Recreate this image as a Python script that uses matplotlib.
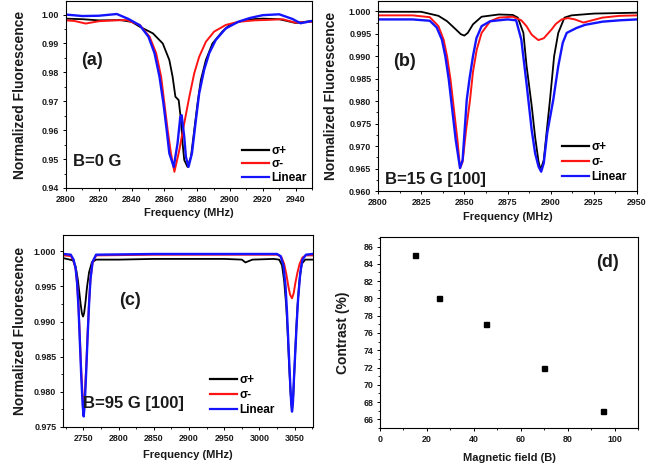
import matplotlib
matplotlib.use("Agg")
import matplotlib.pyplot as plt
from matplotlib.lines import Line2D
from matplotlib.ticker import MultipleLocator, FormatStrFormatter

plt.rcParams['font.family'] = ['Liberation Sans', 'DejaVu Sans']
plt.rcParams['font.weight'] = 'bold'

# ---------------- data ----------------
series_labels = ["σ+", "σ-", "Linear"]

# panel (a) B=0 G
a_freq_black = [2800, 2810, 2820, 2833, 2840, 2845, 2853, 2859, 2863, 2865, 2866.7, 2868.7, 2870.1, 2871.1,
                2872.1, 2874.1, 2876.2, 2878.2, 2880.2, 2882.2, 2885.3, 2889.3, 2895.3, 2900, 2910, 2920,
                2930, 2940, 2950]
a_black = [0.9986, 0.9984, 0.9980, 0.9981, 0.9975, 0.9958, 0.9935, 0.9900, 0.9843, 0.9785, 0.9716, 0.9704,
           0.9635, 0.9554, 0.9497, 0.9473, 0.9508, 0.9600, 0.9693, 0.9773, 0.9843, 0.9900, 0.9941, 0.9965,
           0.9983, 0.9986, 0.9984, 0.9971, 0.9978]
a_freq_red = [2800, 2805, 2812, 2820, 2830, 2837, 2845, 2851, 2855, 2858, 2860, 2862, 2864, 2866.1, 2869.1,
              2872.1, 2875.2, 2878.2, 2881.2, 2885.3, 2890.3, 2897.4, 2905, 2915, 2925, 2932, 2940, 2950]
a_red = [0.9980, 0.9978, 0.9969, 0.9977, 0.9980, 0.9981, 0.9964, 0.9923, 0.9866, 0.9785, 0.9693, 0.9600,
         0.9520, 0.9456, 0.9531, 0.9624, 0.9716, 0.9797, 0.9854, 0.9906, 0.9941, 0.9964, 0.9975, 0.9980,
         0.9982, 0.9984, 0.9972, 0.9975]
a_freq_lin = [2800, 2810, 2820, 2831, 2838, 2845, 2850.3, 2854, 2857, 2859.4, 2861.4, 2863, 2865.7, 2868,
              2869.7, 2870.5, 2872.1, 2873.1, 2874.7, 2876.8, 2879.2, 2881.2, 2884.2, 2887.3, 2891.3, 2897.4,
              2905, 2912, 2920, 2930, 2938, 2943, 2950]
a_lin = [1.0000, 0.9995, 0.9996, 1.0002, 0.9985, 0.9963, 0.9923, 0.9866, 0.9785, 0.9693, 0.9600, 0.9520,
         0.9473, 0.9554, 0.9646, 0.9652, 0.9577, 0.9508, 0.9473, 0.9520, 0.9635, 0.9727, 0.9808, 0.9866,
         0.9912, 0.9952, 0.9975, 0.9988, 0.9998, 1.0001, 0.9985, 0.9970, 0.9978]

# panel (b) B=15 G [100]
b_freq_black = [2800, 2825, 2835, 2840, 2845, 2848, 2850, 2852, 2855, 2860, 2870, 2878, 2881, 2884.2, 2886,
                2889, 2891, 2893, 2894.2, 2896, 2898, 2899.6, 2902, 2904.4, 2908, 2912, 2925, 2950]
b_black = [0.9999, 0.9999, 0.9990, 0.9978, 0.9960, 0.9949, 0.9946, 0.9952, 0.9971, 0.9988, 0.9993, 0.9992,
           0.9986, 0.9952, 0.9880, 0.9790, 0.9720, 0.9665, 0.9647, 0.9669, 0.9744, 0.9803, 0.9900, 0.9952,
           0.9986, 0.9991, 0.9995, 0.9997]
b_freq_red = [2800, 2820, 2830, 2835, 2838, 2840, 2842, 2844, 2846, 2847.5, 2849, 2851, 2853.3, 2855, 2857.2,
              2860, 2865, 2870, 2878, 2883, 2886, 2889, 2892.8, 2896, 2900.6, 2903, 2906.4, 2910, 2914, 2919,
              2924, 2930, 2940, 2950]
b_red = [0.9991, 0.9991, 0.9987, 0.9967, 0.9937, 0.9900, 0.9848, 0.9781, 0.9714, 0.9651, 0.9665, 0.9735,
         0.9803, 0.9865, 0.9915, 0.9952, 0.9978, 0.9986, 0.9988, 0.9980, 0.9967, 0.9948, 0.9936, 0.9940,
         0.9960, 0.9972, 0.9982, 0.9985, 0.9982, 0.9975, 0.9980, 0.9986, 0.9990, 0.9991]
b_freq_lin = [2800, 2820, 2830, 2834, 2837, 2839, 2841, 2843, 2845, 2847.5, 2849, 2851.4, 2853, 2855, 2857,
              2860, 2865, 2875, 2880, 2883, 2886, 2889, 2891, 2893, 2894.5, 2896, 2898, 2901.5, 2904.4, 2907,
              2909.3, 2915, 2920, 2930, 2940, 2950]
b_lin = [0.9982, 0.9982, 0.9979, 0.9964, 0.9937, 0.9900, 0.9848, 0.9781, 0.9714, 0.9651, 0.9669, 0.9803,
         0.9850, 0.9900, 0.9940, 0.9967, 0.9978, 0.9982, 0.9980, 0.9937, 0.9840, 0.9736, 0.9684, 0.9654,
         0.9643, 0.9662, 0.9729, 0.9803, 0.9878, 0.9930, 0.9952, 0.9963, 0.9970, 0.9977, 0.9980, 0.9982]

# panel (c) B=95 G [100]
c_freq_black = [2722, 2735, 2739, 2742, 2744, 2746, 2748, 2749.5, 2751, 2753, 2755, 2758, 2762, 2768, 2800,
                2850, 2900, 2950, 2975, 2980, 2990, 3020, 3028, 3032, 3035, 3038, 3040, 3042, 3044, 3046.2,
                3048, 3050, 3052, 3054, 3057, 3060, 3065, 3075]
c_black = [0.9990, 0.9987, 0.9978, 0.9960, 0.9943, 0.9925, 0.9911, 0.9907, 0.9912, 0.9928, 0.9948, 0.9970,
           0.9984, 0.9988, 0.9988, 0.9989, 0.9989, 0.9989, 0.9988, 0.9984, 0.9988, 0.9989, 0.9988, 0.9980,
           0.9958, 0.9922, 0.9885, 0.9840, 0.9800, 0.9772, 0.9795, 0.9840, 0.9885, 0.9922, 0.9960, 0.9982,
           0.9988, 0.9988]
c_freq_red = [2722, 2732, 2736, 2739, 2741, 2743, 2745, 2747, 2749, 2750.4, 2752, 2754, 2756, 2758, 2760,
              2763, 2768, 2850, 2950, 3025, 3031, 3035, 3038, 3041, 3043.5, 3046.2, 3048.5, 3051, 3054, 3057,
              3061, 3066, 3075]
c_red = [0.9994, 0.9993, 0.9987, 0.9974, 0.9955, 0.9922, 0.9875, 0.9828, 0.9792, 0.9780, 0.9796, 0.9836,
         0.9884, 0.9927, 0.9960, 0.9984, 0.9994, 0.9995, 0.9995, 0.9995, 0.9992, 0.9982, 0.9968, 0.9950,
         0.9938, 0.9933, 0.9940, 0.9955, 0.9970, 0.9982, 0.9991, 0.9994, 0.9994]
c_freq_lin = [2722, 2732, 2736, 2739, 2741, 2743, 2745, 2747, 2749, 2750.4, 2752, 2754, 2756, 2758, 2760,
              2763, 2768, 2850, 2950, 3025, 3030, 3034, 3037, 3039, 3041, 3043, 3045, 3046.2, 3047.5, 3049,
              3051, 3053, 3055, 3058, 3061, 3066, 3075]
c_lin = [0.9996, 0.9995, 0.9988, 0.9975, 0.9955, 0.9920, 0.9870, 0.9820, 0.9780, 0.9765, 0.9785, 0.9830,
         0.9880, 0.9925, 0.9960, 0.9985, 0.9995, 0.9996, 0.9996, 0.9996, 0.9993, 0.9980, 0.9950, 0.9915,
         0.9870, 0.9825, 0.9785, 0.9772, 0.9785, 0.9820, 0.9860, 0.9900, 0.9935, 0.9970, 0.9988, 0.9995,
         0.9996]

# panel (d)
field_B = [15, 25, 45, 70, 95]
contrast_pct = [85, 80, 77, 72, 67]

colors = ["black", "#ff1414", "#1414ff"]

# ---------------- figure ----------------
W, H = 672, 467
fig = plt.figure(figsize=(W / 100, H / 100), dpi=100)


def px_axes(l, t, r, b):
    return fig.add_axes([l / W, 1 - b / H, (r - l) / W, (b - t) / H])


axA = px_axes(66, 1, 312, 188)
axB = px_axes(378, 1, 637, 191)
axC = px_axes(63, 235, 313, 427)
axD = px_axes(380, 237, 638, 428)

tick_fs = 6.4
for ax in (axA, axB, axC, axD):
    for s in ax.spines.values():
        s.set_linewidth(0.8)
    ax.tick_params(which='major', direction='out', length=2.5, width=0.7, labelsize=tick_fs, pad=2.3,
                   labelcolor='#1a1a1a')
    ax.tick_params(which='minor', direction='out', length=1.3, width=0.6)

lw = [1.3, 1.4, 1.7]


def spectra(ax, fr, vals):
    for f, v, c, w in zip(fr, vals, colors, lw):
        ax.plot(f, v, color=c, lw=w)


spectra(axA, [a_freq_black, a_freq_red, a_freq_lin], [a_black, a_red, a_lin])
spectra(axB, [b_freq_black, b_freq_red, b_freq_lin], [b_black, b_red, b_lin])
spectra(axC, [c_freq_black, c_freq_red, c_freq_lin], [c_black, c_red, c_lin])

axA.set_xlim(2800, 2950)
axA.set_ylim(0.94, 1.0047)
axA.xaxis.set_minor_locator(MultipleLocator(10))
axA.yaxis.set_major_locator(MultipleLocator(0.01))
axA.yaxis.set_minor_locator(MultipleLocator(0.005))
axA.yaxis.set_major_formatter(FormatStrFormatter('%.2f'))
axA.set_xticks([2800, 2820, 2840, 2860, 2880, 2900, 2920, 2940])

axB.set_xlim(2800, 2950)
axB.set_ylim(0.960, 1.0023)
axB.xaxis.set_major_locator(MultipleLocator(25))
axB.xaxis.set_minor_locator(MultipleLocator(12.5))
axB.yaxis.set_major_locator(MultipleLocator(0.005))
axB.yaxis.set_minor_locator(MultipleLocator(0.0025))
axB.yaxis.set_major_formatter(FormatStrFormatter('%.3f'))

axC.set_xlim(2721, 3076)
axC.set_ylim(0.975, 1.0023)
axC.xaxis.set_major_locator(MultipleLocator(50))
axC.xaxis.set_minor_locator(MultipleLocator(25))
axC.yaxis.set_major_locator(MultipleLocator(0.005))
axC.yaxis.set_minor_locator(MultipleLocator(0.0025))
axC.yaxis.set_major_formatter(FormatStrFormatter('%.3f'))

axD.plot(field_B, contrast_pct, linestyle='none', marker='s', ms=3.6, color='black')
axD.set_xlim(0, 110)
axD.set_ylim(65, 87.1)
axD.xaxis.set_major_locator(MultipleLocator(20))
axD.xaxis.set_minor_locator(MultipleLocator(10))
axD.yaxis.set_major_locator(MultipleLocator(2))
axD.yaxis.set_minor_locator(MultipleLocator(1))

for ax in (axA, axB, axC, axD):
    for lab in ax.get_xticklabels() + ax.get_yticklabels():
        lab.set_fontweight('bold')

# labels
lab_kw = dict(fontweight='bold', color='#1a1a1a')
for ax, xl_y, yl_x in ((axA, -0.107, -0.159), (axB, -0.11, -0.154), (axC, -0.12, -0.144)):
    ax.set_xlabel("Frequency (MHz)", fontsize=8, **lab_kw)
    ax.set_ylabel("Normalized Fluorescence", fontsize=10, **lab_kw)
    ax.xaxis.set_label_coords(0.5, xl_y)
    ax.yaxis.set_label_coords(yl_x, 0.5)
axD.set_xlabel("Magnetic field (B)", fontsize=8, **lab_kw)
axD.set_ylabel("Contrast (%)", fontsize=10, **lab_kw)
axD.xaxis.set_label_coords(0.5, -0.131)
axD.yaxis.set_label_coords(-0.116, 0.5)

# annotations
txt_kw = dict(fontweight='bold', color='#1a1a1a')
axA.text(0.106, 0.684, "(a)", transform=axA.transAxes, fontsize=13, ha='center', va='center', **txt_kw)
axA.text(0.028, 0.144, "B=0 G", transform=axA.transAxes, fontsize=12, ha='left', va='center', **txt_kw)
axB.text(0.104, 0.679, "(b)", transform=axB.transAxes, fontsize=13, ha='center', va='center', **txt_kw)
axB.text(0.027, 0.058, "B=15 G [100]", transform=axB.transAxes, fontsize=12, ha='left', va='center', **txt_kw)
axC.text(0.268, 0.661, "(c)", transform=axC.transAxes, fontsize=13, ha='center', va='center', **txt_kw)
axC.text(0.08, 0.12, "B=95 G [100]", transform=axC.transAxes, fontsize=12, ha='left', va='center', **txt_kw)
axD.text(0.88, 0.864, "(d)", transform=axD.transAxes, fontsize=13, ha='center', va='center', **txt_kw)

# legends
handles = [Line2D([0], [0], color=c, lw=1.6) for c in colors]
for ax, x0, y0, sp in ((axA, 0.715, 0.02, 0.15), (axB, 0.71, 0.042, 0.25), (axC, 0.588, 0.057, 0.25)):
    ax.legend(handles, series_labels, loc='lower left', bbox_to_anchor=(x0, y0), frameon=False,
              borderpad=0, borderaxespad=0, handlelength=2.3, handletextpad=0.2, labelspacing=sp,
              prop={'weight': 'bold', 'size': 8.5})

fig.savefig("out.png", dpi=100)
